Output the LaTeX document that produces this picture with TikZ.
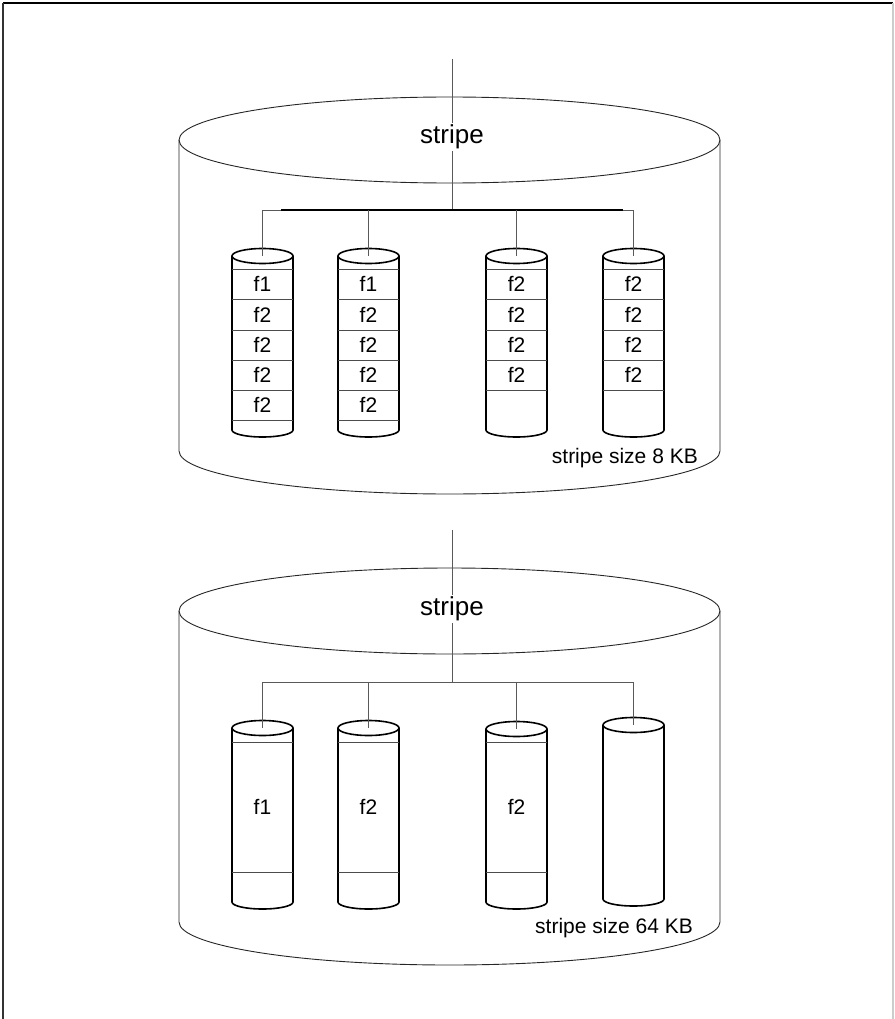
\documentclass[tikz,border=0pt]{standalone}
\usepackage{fontspec}
\setmainfont{Liberation Sans}
\tikzset{
  bigline/.style={draw=black!85, line width=0.9pt},
  cylline/.style={draw=black, line width=1.6pt},
  rowline/.style={draw=black!70, line width=0.8pt},
  conn/.style={draw=black!65, line width=0.9pt},
  busthick/.style={draw=black, line width=2pt},
  stripelbl/.style={font=\fontsize{26}{30}\selectfont, fill=white, inner sep=1.5pt},
  flbl/.style={font=\fontsize{21}{25}\selectfont, inner sep=0pt},
  sizelbl/.style={font=\fontsize{21}{25}\selectfont, anchor=east, inner sep=0pt},
}
\newcommand\mycyl[4]{% name, cx, ytop, yside-end
  \coordinate (#1) at (#2,#3);
  \draw[cylline] ({#2-30.5},#3) -- ({#2-30.5},#4) arc[start angle=180,end angle=0,x radius=30.5,y radius=7] -- ({#2+30.5},#3);
  \draw[cylline] (#2,#3) ellipse[x radius=30.5, y radius=7.5];
}
\newcommand\myrow[2]{% cx, y
  \draw[rowline] ({#1-30.5},#2) -- ({#1+30.5},#2);
}
\newcommand\mybig[3]{% cx, ytop, ybottom
  \draw[bigline] ({#1-270.5},#2) -- ({#1-270.5},#3) arc[start angle=180,end angle=0,x radius=270.5,y radius=43] -- ({#1+270.5},#2);
  \draw[bigline] (#1,#2) ellipse[x radius=270.5, y radius=43];
}
\begin{document}
\begin{tikzpicture}[x=1pt,y=-1pt]
\useasboundingbox (0,0) rectangle (894,1019);
% frame
\draw[black, line width=1.5pt] (3,3) -- (893,3);
\draw[black!80, line width=1.2pt] (3,3) -- (3,1019);
\draw[black!20, line width=1.2pt] (893,3) -- (893,1019);

% ===== top diagram =====
\mybig{449.5}{140}{451}
\coordinate (in1) at (452,59);
\coordinate (j1) at (452,210);
\coordinate (ta) at (262.5,210);
\coordinate (tb) at (368.5,210);
\coordinate (tc) at (516.5,210);
\coordinate (td) at (633.5,210);
\coordinate (tk1) at (281,210);
\coordinate (tk2) at (623,210);
\draw[conn] (in1) -- (j1);
\node[stripelbl] (s1) at (452,137) {stripe};
\draw[conn] (ta) -- (td);
\draw[busthick] (tk1) -- (tk2);
\mycyl{tc1}{262.5}{256}{430}
\mycyl{tc2}{368.5}{256}{430}
\mycyl{tc3}{516.5}{256}{430}
\mycyl{tc4}{633.5}{256}{430}
\draw[conn] (ta) -- (tc1);
\draw[conn] (tb) -- (tc2);
\draw[conn] (tc) -- (tc3);
\draw[conn] (td) -- (tc4);
\foreach \cx in {262.5,368.5}{
  \foreach \yy in {269,299,330,360,390,420}{\myrow{\cx}{\yy}}
  \node[flbl] at (\cx,284) {f1};
  \foreach \yy in {314.5,345,375,405}{\node[flbl] at (\cx,\yy) {f2};}
}
\foreach \cx in {516.5,633.5}{
  \foreach \yy in {269,299,330,360,390}{\myrow{\cx}{\yy}}
  \foreach \yy in {284,314.5,345,375}{\node[flbl] at (\cx,\yy) {f2};}
}
\node[sizelbl] (sz1) at (698,458) {stripe size 8 KB};

% ===== bottom diagram =====
\mybig{449.5}{611}{922}
\coordinate (in2) at (452,530);
\coordinate (j2) at (452,682);
\coordinate (ba) at (262.5,682);
\coordinate (bb) at (368.5,682);
\coordinate (bc) at (516.5,682);
\coordinate (bd) at (633.5,682);
\draw[conn] (in2) -- (j2);
\node[stripelbl] (s2) at (452,609) {stripe};
\draw[conn] (ba) -- (bd);
\mycyl{bc1}{262.5}{728}{902}
\mycyl{bc2}{368.5}{728}{902}
\mycyl{bc3}{516.5}{729}{902}
\mycyl{bc4}{633.5}{725}{899}
\draw[conn] (ba) -- (bc1);
\draw[conn] (bb) -- (bc2);
\draw[conn] (bc) -- (bc3);
\draw[conn] (bd) -- (bc4);
\foreach \cx in {262.5,368.5,516.5}{
  \myrow{\cx}{742}
  \myrow{\cx}{872}
}
\node[flbl] at (262.5,807) {f1};
\node[flbl] at (368.5,807) {f2};
\node[flbl] at (516.5,807) {f2};
\node[sizelbl] (sz2) at (693,928) {stripe size 64 KB};
\end{tikzpicture}
\end{document}
